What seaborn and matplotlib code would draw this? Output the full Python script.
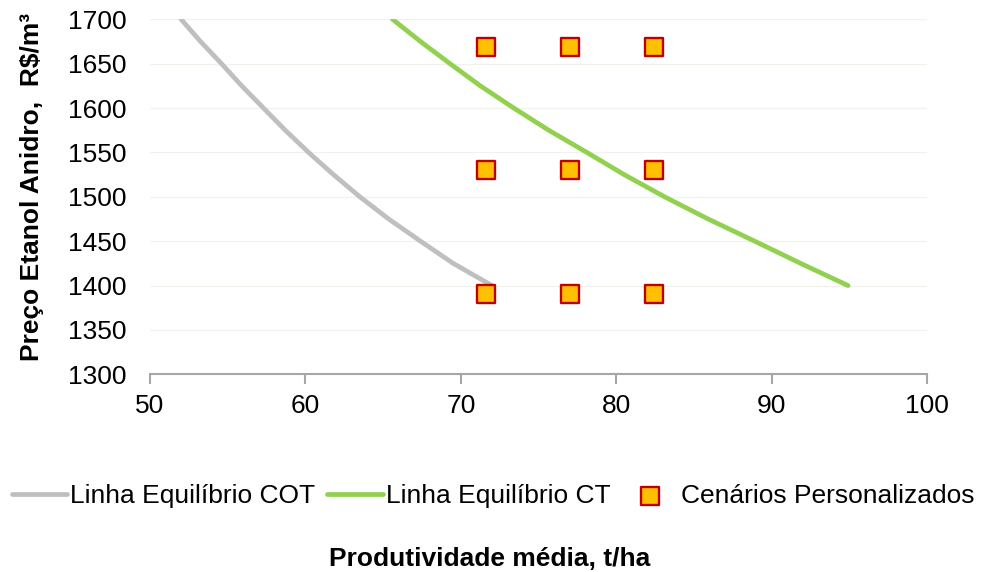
import matplotlib
matplotlib.use("Agg")
import matplotlib.pyplot as plt
import seaborn as sns
import pandas as pd

# --- data ---
cot_x = [52.0, 53.25, 54.6, 55.9, 57.3, 58.7, 60.2, 61.8, 63.5, 65.35, 67.4, 69.5, 72.0]
cot_y = [1700, 1675, 1650, 1625, 1600, 1575, 1550, 1525, 1500, 1475, 1450, 1425, 1400]
ct_x = [65.6, 67.4, 69.3, 71.25, 73.4, 75.65, 78.1, 80.5, 83.1, 85.9, 88.9, 91.85, 94.9]
ct_y = [1700, 1675, 1650, 1625, 1600, 1575, 1550, 1525, 1500, 1475, 1450, 1425, 1400]
cen_x = [71.6, 77.0, 82.4, 71.6, 77.0, 82.4, 71.6, 77.0, 82.4]
cen_y = [1669, 1669, 1669, 1530, 1530, 1530, 1391, 1391, 1391]

x_ticks = [50, 60, 70, 80, 90, 100]
y_ticks = [1300, 1350, 1400, 1450, 1500, 1550, 1600, 1650, 1700]

sns.set_theme(style="white")
plt.rcParams["font.family"] = ["Liberation Sans", "DejaVu Sans"]
plt.rcParams["text.color"] = "black"

FS = 19

fig = plt.figure(figsize=(9.82, 5.72), dpi=100)
ax = fig.add_axes([150/982, 1-374.3/572, (927.3-150)/982, (374.3-19.3)/572])

df_cot = pd.DataFrame({"x": cot_x, "y": cot_y})
df_ct = pd.DataFrame({"x": ct_x, "y": ct_y})
df_cen = pd.DataFrame({"x": cen_x, "y": cen_y})

sns.lineplot(data=df_cot, x="x", y="y", ax=ax, color="#BFBFBF", linewidth=3.4,
             sort=False, label="Linha Equilíbrio COT", solid_capstyle="round",
             solid_joinstyle="round")
sns.lineplot(data=df_ct, x="x", y="y", ax=ax, color="#92D050", linewidth=3.4,
             sort=False, label="Linha Equilíbrio CT", solid_capstyle="round",
             solid_joinstyle="round")
sns.scatterplot(data=df_cen, x="x", y="y", ax=ax, marker="s", s=150,
                color="#FFC000", edgecolor="#C00000", linewidth=1.7,
                label="Cenários Personalizados", zorder=5)

ax.set_xlim(50, 100)
ax.set_ylim(1300, 1700)
ax.set_xticks(x_ticks)
ax.set_yticks(y_ticks)
ax.set_xticklabels([str(v) for v in x_ticks], fontsize=FS)
ax.set_yticklabels([str(v) for v in y_ticks], fontsize=FS)

ax.grid(axis="y", color="#F2F2EC", linewidth=0.9)
ax.grid(axis="x", visible=False)
for s in ["top", "right", "left"]:
    ax.spines[s].set_visible(False)
ax.spines["bottom"].set_color("#A6A6A6")
ax.spines["bottom"].set_linewidth(1.5)
ax.tick_params(axis="x", bottom=True, length=7, width=1.5, color="#A6A6A6",
               pad=7, labelcolor="black")
ax.tick_params(axis="y", left=False, length=0, pad=17, labelcolor="black")

ax.set_ylabel("Preço Etanol Anidro,  R$/m³", fontsize=FS, fontweight="bold",
              color="black")
ax.yaxis.set_label_coords((44 - 150) / 777.3, (374.3 - 186.5) / 355)
ax.set_xlabel("Produtividade média, t/ha", fontsize=FS, fontweight="bold",
              color="black")
ax.xaxis.set_label_coords((490 - 150) / 777.3, -(547 - 374.3) / 355)

ax.get_legend().remove()
h, l = ax.get_legend_handles_labels()
leg = fig.legend(h, l, loc="center", bbox_to_anchor=(493/982, 1 - 496/572),
                 ncol=3, frameon=False, fontsize=FS, handlelength=2.1,
                 handletextpad=0.12, columnspacing=0.45, borderaxespad=0)
for t in leg.get_texts():
    t.set_color("black")

fig.savefig("out.png", dpi=100)
